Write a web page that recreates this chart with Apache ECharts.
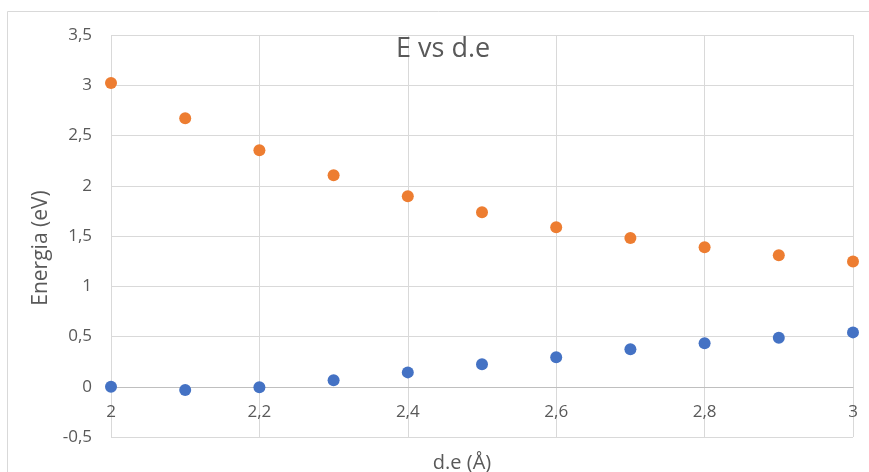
<!DOCTYPE html>
<html lang="es">
<head>
    <meta charset="UTF-8">
    <title>E vs d.e</title>
    <script src="https://cdn.jsdelivr.net/npm/echarts@6/dist/echarts.min.js"></script>
    <style>
        html, body { margin: 0; padding: 0; background: #fff; }
        #main { width: 869px; height: 472px; }
    </style>
</head>
<body>
<div id="main"></div>
<script>
    // distancias d.e (Å)
    var distancias = [2.0, 2.1, 2.2, 2.3, 2.4, 2.5, 2.6, 2.7, 2.8, 2.9, 3.0];
    // serie azul (energia baja)
    var energiaAzul = [0.0, -0.033, -0.006, 0.064, 0.143, 0.223, 0.294, 0.372, 0.434, 0.487, 0.541];
    // serie naranja (energia alta)
    var energiaNaranja = [3.022, 2.671, 2.353, 2.105, 1.896, 1.737, 1.588, 1.481, 1.389, 1.309, 1.246];

    function pares(xs, ys) {
        var out = [];
        for (var i = 0; i < xs.length; i++) {
            out.push([xs[i], ys[i]]);
        }
        return out;
    }

    function coma(v) {
        return String(+v.toFixed(1)).replace('.', ',');
    }

    var fuente = '"Open Sans", "Noto Sans", sans-serif';
    var gris = '#595959';

    var mychart = echarts.init(document.getElementById('main'));

    var option = {
        backgroundColor: '#fff',
        animation: false,
        title: {
            text: 'E vs d.e',
            left: 391,
            top: 31,
            textStyle: { fontFamily: fuente, fontSize: 27, fontWeight: 'normal', color: gris }
        },
        graphic: [{
            type: 'rect',
            shape: { x: 7.5, y: 11.5, width: 900, height: 500 },
            style: { fill: 'none', stroke: '#d9d9d9', lineWidth: 1 },
            silent: true,
            z: -1
        }],
        grid: { left: 111, right: 16, top: 35, bottom: 35, containLabel: false, outerBoundsMode: 'none' },
        xAxis: {
            type: 'value',
            min: 2,
            max: 3,
            interval: 0.2,
            name: 'd.e (Å)',
            nameLocation: 'middle',
            nameGap: 16,
            nameTextStyle: { fontFamily: fuente, fontSize: 20, color: gris, padding: [0, 40, 0, 0] },
            axisLine: { show: true, onZero: true, lineStyle: { color: '#bfbfbf', width: 1 } },
            axisTick: { show: false },
            // etiquetas junto a la linea del cero, como en Excel
            axisLabel: { fontFamily: fuente, fontSize: 17, color: gris, margin: -33, formatter: coma },
            splitLine: { show: true, lineStyle: { color: '#d9d9d9', width: 1 } }
        },
        yAxis: {
            type: 'value',
            min: -0.5,
            max: 3.5,
            interval: 0.5,
            name: 'Energia (eV)',
            nameLocation: 'middle',
            nameGap: 52,
            nameTextStyle: { fontFamily: fuente, fontSize: 21, color: gris, padding: [0, 24, 0, 0] },
            axisLine: { show: false },
            axisTick: { show: false },
            axisLabel: { fontFamily: fuente, fontSize: 17, color: gris, margin: 19, formatter: coma },
            splitLine: { show: true, lineStyle: { color: '#d9d9d9', width: 1 } }
        },
        series: [
            {
                name: 'azul',
                type: 'scatter',
                symbolSize: 12,
                itemStyle: { color: '#4472C4', opacity: 1 },
                data: pares(distancias, energiaAzul)
            },
            {
                name: 'naranja',
                type: 'scatter',
                symbolSize: 12,
                itemStyle: { color: '#ED7D31', opacity: 1 },
                data: pares(distancias, energiaNaranja)
            }
        ]
    };

    mychart.setOption(option);
</script>
</body>
</html>
